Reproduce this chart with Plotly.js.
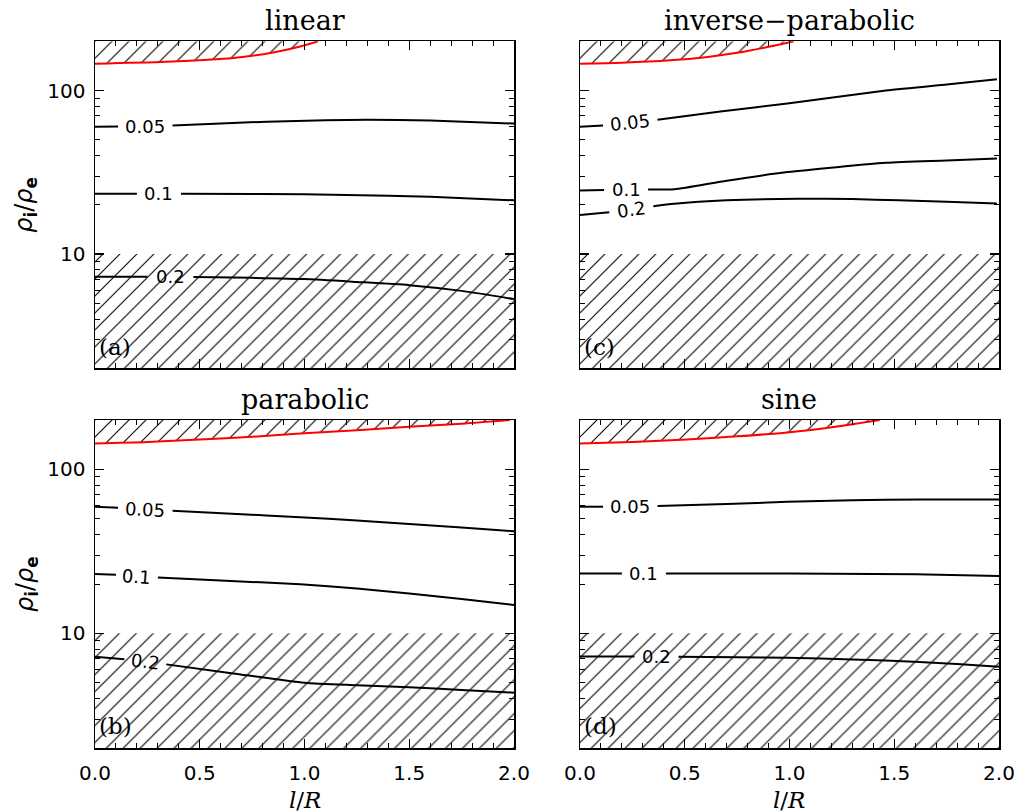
<!DOCTYPE html>
<html>
<head>
<meta charset="utf-8">
<script src="https://cdn.plot.ly/plotly-3.0.1.min.js"></script>
<style>html,body{margin:0;padding:0;background:#fff;}#chart{width:1020px;height:812px;}</style>
</head>
<body>
<div id="chart"></div>
<script>
// ---------- data ----------
const panelTitles = ['linear', 'parabolic', 'inverse\u2212parabolic', 'sine'];
const panelTags = ['(a)', '(b)', '(c)', '(d)'];
const levelLabels = ['0.05', '0.1', '0.2'];

const xTickVals = [0, 0.5, 1.0, 1.5, 2.0];
const xTickText = ['0.0', '0.5', '1.0', '1.5', '2.0'];
const yTickVals = [10, 100];
const yTickText = ['10', '100'];
const yMinorTicks = [2, 3, 4, 5, 6, 7, 8, 9, 20, 30, 40, 50, 60, 70, 80, 90];
const xRange = [0, 2];
const yRange = [2, 200];

// lower excluded (hatched) band
const hatchBandX = [0, 2, 2, 0];
const hatchBandY = [2, 2, 10, 10];

// (a) linear
const linearRedX = [0, 0.34, 0.66, 0.85, 0.98, 1.065];
const linearRedY = [146, 150, 158, 171, 186, 200];
const linear05X = [0, 0.11, null, 0.37, 0.6, 0.82, 1.1, 1.3, 1.6, 2.0];
const linear05Y = [60, 60.2, null, 61, 62.8, 64.5, 65.8, 66.3, 65.5, 62.8];
const linear10X = [0, 0.2, null, 0.41, 0.8, 1.2, 1.6, 2.0];
const linear10Y = [23.4, 23.4, null, 23.4, 23.3, 23.0, 22.4, 21.3];
const linear20X = [0, 0.25, null, 0.47, 0.75, 1.0, 1.25, 1.5, 1.75, 2.0];
const linear20Y = [7.27, 7.27, null, 7.24, 7.15, 7.03, 6.75, 6.45, 5.95, 5.3];

// (b) parabolic
const parabolicRedX = [0, 0.25, 0.5, 0.75, 1.0, 1.25, 1.5, 1.75, 1.98];
const parabolicRedY = [144, 147, 152, 158, 166, 173, 182, 190, 200];
const parabolic05X = [0, 0.11, null, 0.37, 0.7, 0.98, 1.25, 1.5, 1.75, 2.0];
const parabolic05Y = [59.2, 58.3, null, 56.0, 53.3, 51.0, 48.8, 46.4, 44.2, 42.0];
const parabolic10X = [0, 0.1, null, 0.3, 0.6, 0.98, 1.25, 1.5, 1.75, 2.0];
const parabolic10Y = [23.0, 22.8, null, 21.9, 21.0, 19.9, 18.8, 17.5, 16.2, 14.9];
const parabolic20X = [0, 0.14, null, 0.34, 0.66, 1.0, 1.25, 1.5, 1.75, 2.0];
const parabolic20Y = [7.2, 6.96, null, 6.47, 5.7, 5.0, 4.83, 4.69, 4.52, 4.35];

// (c) inverse-parabolic
const invparRedX = [0, 0.2, 0.43, 0.6, 0.75, 0.9, 1.02];
const invparRedY = [146, 148, 153, 160, 170, 185, 200];
const invpar05X = [0, 0.11, null, 0.37, 0.67, 0.99, 1.46, 1.75, 1.99];
const invpar05Y = [60, 61.1, null, 66.2, 74.5, 83.3, 100, 109, 117];
const invpar10X = [0, 0.115, null, 0.325, 0.45, 0.7, 0.99, 1.46, 1.75, 1.99];
const invpar10Y = [24.5, 24.6, null, 24.8, 24.9, 28.1, 31.7, 36.1, 37.3, 38.4];
const invpar20X = [0, 0.14, null, 0.35, 0.45, 0.7, 1.04, 1.3, 1.52, 1.75, 1.99];
const invpar20Y = [17.3, 18.0, null, 19.6, 20.3, 21.3, 21.8, 21.7, 21.3, 20.9, 20.4];

// (d) sine
const sineRedX = [0, 0.25, 0.51, 0.75, 0.99, 1.22, 1.43];
const sineRedY = [144, 147, 152, 159, 168, 182, 200];
const sine05X = [0, 0.11, null, 0.37, 0.7, 0.99, 1.3, 1.62, 2.0];
const sine05Y = [59.2, 59.2, null, 59.7, 61.5, 63.4, 64.8, 65.6, 65.5];
const sine10X = [0, 0.2, null, 0.41, 0.8, 1.2, 1.6, 2.0];
const sine10Y = [23.2, 23.2, null, 23.2, 23.2, 23.1, 22.9, 22.4];
const sine20X = [0, 0.26, null, 0.47, 0.75, 0.99, 1.3, 1.62, 1.8, 2.0];
const sine20Y = [7.23, 7.23, null, 7.2, 7.16, 7.1, 6.93, 6.7, 6.5, 6.26];

// ---------- assemble ----------
const W = 1020, H = 812;
const colA = [95 / W, 514 / W];
const colB = [580 / W, 999 / W];
const rowTop = [1 - 368.3 / H, 1 - 41.3 / H];
const rowBot = [1 - 748 / H, 1 - 420 / H];

const panels = [
  {title: panelTitles[0], tag: panelTags[0], xa: 'x', ya: 'y', xd: colA, yd: rowTop,
   red: [linearRedX, linearRedY],
   lines: [[linear05X, linear05Y], [linear10X, linear10Y], [linear20X, linear20Y]]},
  {title: panelTitles[2], tag: panelTags[2], xa: 'x2', ya: 'y2', xd: colB, yd: rowTop,
   red: [invparRedX, invparRedY],
   lines: [[invpar05X, invpar05Y], [invpar10X, invpar10Y], [invpar20X, invpar20Y]]},
  {title: panelTitles[1], tag: panelTags[1], xa: 'x3', ya: 'y3', xd: colA, yd: rowBot,
   red: [parabolicRedX, parabolicRedY],
   lines: [[parabolic05X, parabolic05Y], [parabolic10X, parabolic10Y], [parabolic20X, parabolic20Y]]},
  {title: panelTitles[3], tag: panelTags[3], xa: 'x4', ya: 'y4', xd: colB, yd: rowBot,
   red: [sineRedX, sineRedY],
   lines: [[sine05X, sine05Y], [sine10X, sine10Y], [sine20X, sine20Y]]}
];

const hatch = {shape: '/', size: 12, solidity: 0.09, fgcolor: 'black', fgopacity: 1, bgcolor: 'rgba(0,0,0,0)'};
const traces = [];
const annotations = [];
const layout = {
  width: W, height: H, autosize: false, showlegend: false,
  margin: {l: 0, r: 0, t: 0, b: 0},
  paper_bgcolor: 'white', plot_bgcolor: 'white',
  annotations: annotations
};

const logR = [Math.log10(yRange[0]), Math.log10(yRange[1])];

panels.forEach((p, i) => {
  const xs = p.xa === 'x' ? '' : p.xa.slice(1);
  const left = p.xd === colA;
  const bottom = p.yd === rowBot;
  layout['xaxis' + xs] = {
    domain: p.xd, anchor: p.ya, range: xRange, type: 'linear',
    showline: true, linecolor: 'black', linewidth: 1.5, mirror: 'allticks',
    ticks: 'inside', ticklen: 9, tickwidth: 1.2, tickcolor: 'black',
    tickmode: 'array', tickvals: xTickVals, ticktext: xTickText,
    showticklabels: bottom, ticklabelstandoff: 6,
    tickfont: {family: 'DejaVu Sans', size: 20, color: 'black'},
    minor: {ticks: 'inside', ticklen: 5, dtick: 0.1, tickcolor: 'black', tickwidth: 1, showgrid: false},
    showgrid: false, zeroline: false, fixedrange: true
  };
  layout['yaxis' + xs] = {
    domain: p.yd, anchor: p.xa, type: 'log', range: logR,
    showline: true, linecolor: 'black', linewidth: 1.5, mirror: 'allticks',
    ticks: 'inside', ticklen: 9, tickwidth: 1.2, tickcolor: 'black',
    tickmode: 'array', tickvals: yTickVals, ticktext: yTickText,
    showticklabels: left, ticklabelstandoff: 4,
    tickfont: {family: 'DejaVu Sans', size: 20, color: 'black'},
    minor: {ticks: 'inside', ticklen: 5, tickvals: yMinorTicks, tickcolor: 'black', tickwidth: 1, showgrid: false},
    showgrid: false, zeroline: false, fixedrange: true
  };

  // lower hatched band
  traces.push({x: hatchBandX, y: hatchBandY, xaxis: p.xa, yaxis: p.ya, type: 'scatter', mode: 'lines',
    fill: 'toself', fillcolor: 'rgba(0,0,0,0)', fillpattern: hatch, line: {width: 0, color: 'rgba(0,0,0,0)'},
    hoverinfo: 'skip'});
  // upper hatched region above the red curve
  traces.push({x: p.red[0].concat([p.red[0][0]]), y: p.red[1].concat([yRange[1]]), xaxis: p.xa, yaxis: p.ya,
    type: 'scatter', mode: 'lines', fill: 'toself', fillcolor: 'rgba(0,0,0,0)', fillpattern: hatch,
    line: {width: 0, color: 'rgba(0,0,0,0)'}, hoverinfo: 'skip'});
  // red boundary curve
  traces.push({x: p.red[0], y: p.red[1], xaxis: p.xa, yaxis: p.ya, type: 'scatter', mode: 'lines',
    line: {color: '#ff0000', width: 2, shape: 'spline', smoothing: 0.8}, hoverinfo: 'skip'});

  const pxW = (p.xd[1] - p.xd[0]) * W;
  const pxH = (p.yd[1] - p.yd[0]) * H;
  p.lines.forEach((ln, k) => {
    traces.push({x: ln[0], y: ln[1], xaxis: p.xa, yaxis: p.ya, type: 'scatter', mode: 'lines',
      connectgaps: false, line: {color: 'black', width: 2, shape: 'spline', smoothing: 0.6}, hoverinfo: 'skip'});
    const g = ln[0].indexOf(null);
    const x1 = ln[0][g - 1], x2 = ln[0][g + 1], y1 = ln[1][g - 1], y2 = ln[1][g + 1];
    const dx = (x2 - x1) / (xRange[1] - xRange[0]) * pxW;
    const dy = (Math.log10(y2) - Math.log10(y1)) / (logR[1] - logR[0]) * pxH;
    const ang = -Math.atan2(dy, dx) * 180 / Math.PI;
    annotations.push({xref: p.xa, yref: p.ya, x: (x1 + x2) / 2, y: (Math.log10(y1) + Math.log10(y2)) / 2,
      text: levelLabels[k], showarrow: false, textangle: Math.abs(ang) < 1.5 ? 0 : ang,
      font: {family: 'DejaVu Sans', size: 18, color: 'black'}, xanchor: 'center', yanchor: 'middle'});
  });

  // panel title
  annotations.push({xref: 'paper', yref: 'paper', x: (p.xd[0] + p.xd[1]) / 2, y: p.yd[1], yshift: 3,
    xanchor: 'center', yanchor: 'bottom', showarrow: false, text: p.title,
    font: {family: 'DejaVu Serif', size: 27, color: 'black'}});
  // panel tag
  annotations.push({xref: p.xa + ' domain', yref: p.ya + ' domain', x: 0.005, y: 0.02,
    xanchor: 'left', yanchor: 'bottom', showarrow: false, text: p.tag,
    font: {family: 'DejaVu Serif', size: 23, color: 'black'}});
  if (left) {
    annotations.push({xref: 'paper', yref: 'paper', x: 26 / W, y: (p.yd[0] + p.yd[1]) / 2,
      xanchor: 'center', yanchor: 'middle', showarrow: false, textangle: -90,
      text: '<i>\u03c1</i><sub><b>i</b></sub>/<i>\u03c1</i><sub><b>e</b></sub>',
      font: {family: 'DejaVu Sans', size: 24, color: 'black'}});
  }
  if (bottom) {
    annotations.push({xref: 'paper', yref: 'paper', x: (p.xd[0] + p.xd[1]) / 2, y: 1 - 800 / H,
      xanchor: 'center', yanchor: 'middle', showarrow: false, text: '<i>l</i>/<i>R</i>',
      font: {family: 'DejaVu Serif', size: 23, color: 'black'}});
  }
});

Plotly.newPlot('chart', traces, layout, {staticPlot: true, displayModeBar: false});
</script>
</body>
</html>
